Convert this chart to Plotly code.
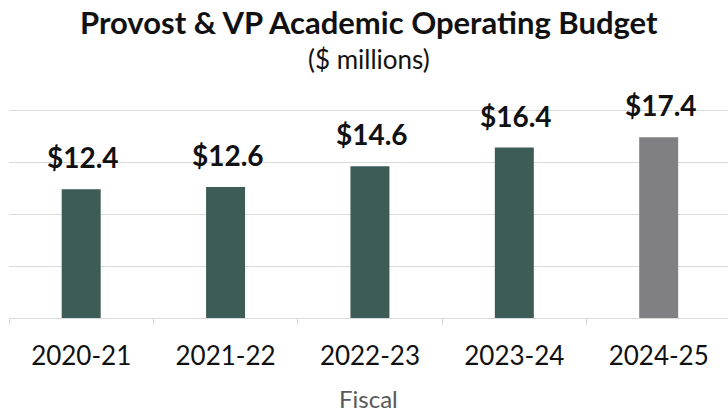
import plotly.graph_objects as go

categories = ["2020-21", "2021-22", "2022-23", "2023-24", "2024-25"]
values = [12.4, 12.6, 14.6, 16.4, 17.4]
labels = ["$12.4", "$12.6", "$14.6", "$16.4", "$17.4"]
colors = ["#3d5b57", "#3d5b57", "#3d5b57", "#3d5b57", "#807f83"]

FONT = "Lato"

fig = go.Figure()
fig.add_trace(go.Bar(
    x=categories, y=values,
    marker=dict(color=colors, line=dict(width=0)),
    width=0.27,
    hoverinfo="skip",
))

for c, v, t in zip(categories, values, labels):
    fig.add_annotation(x=c, y=v, text=f"<b>{t}</b>", showarrow=False,
                       yanchor="bottom", yshift=13, xshift=2,
                       font=dict(family=FONT, size=28, color="#111111"))

fig.add_annotation(xref="paper", yref="paper", x=0.5, y=0, yanchor="middle", yshift=296,
                   text="<b>Provost & VP Academic Operating Budget</b>", showarrow=False,
                   font=dict(family=FONT, size=31, color="#111111"))
fig.add_annotation(xref="paper", yref="paper", x=0.5, y=0, yanchor="middle", yshift=259,
                   text="($ millions)", showarrow=False,
                   font=dict(family=FONT, size=26, color="#111111"))
fig.add_annotation(xref="paper", yref="paper", x=0.5, y=0, yanchor="middle", yshift=-80,
                   text="Fiscal", showarrow=False,
                   font=dict(family=FONT, size=24, color="#595959"))

fig.update_layout(
    width=728, height=415,
    margin=dict(l=9, r=0, t=105, b=97),
    paper_bgcolor="white", plot_bgcolor="white",
    showlegend=False,
    xaxis=dict(
        type="category", range=[-0.5, 4.48], automargin=False,
        showline=True, linecolor="#d9d9d9", linewidth=1,
        ticks="outside", tickson="boundaries", ticklen=6, tickcolor="#d9d9d9",
        tickfont=dict(family=FONT, size=26, color="#111111"),
        ticklabelstandoff=15,
        showgrid=False,
    ),
    yaxis=dict(
        range=[0, 20.5], dtick=5, showgrid=True, gridcolor="#d9d9d9", gridwidth=1,
        showticklabels=False, zeroline=False, showline=False, fixedrange=True,
        automargin=False,
    ),
)

fig.write_html("out.html", config={"displayModeBar": False},
               post_script="document.body.style.margin='0';")
